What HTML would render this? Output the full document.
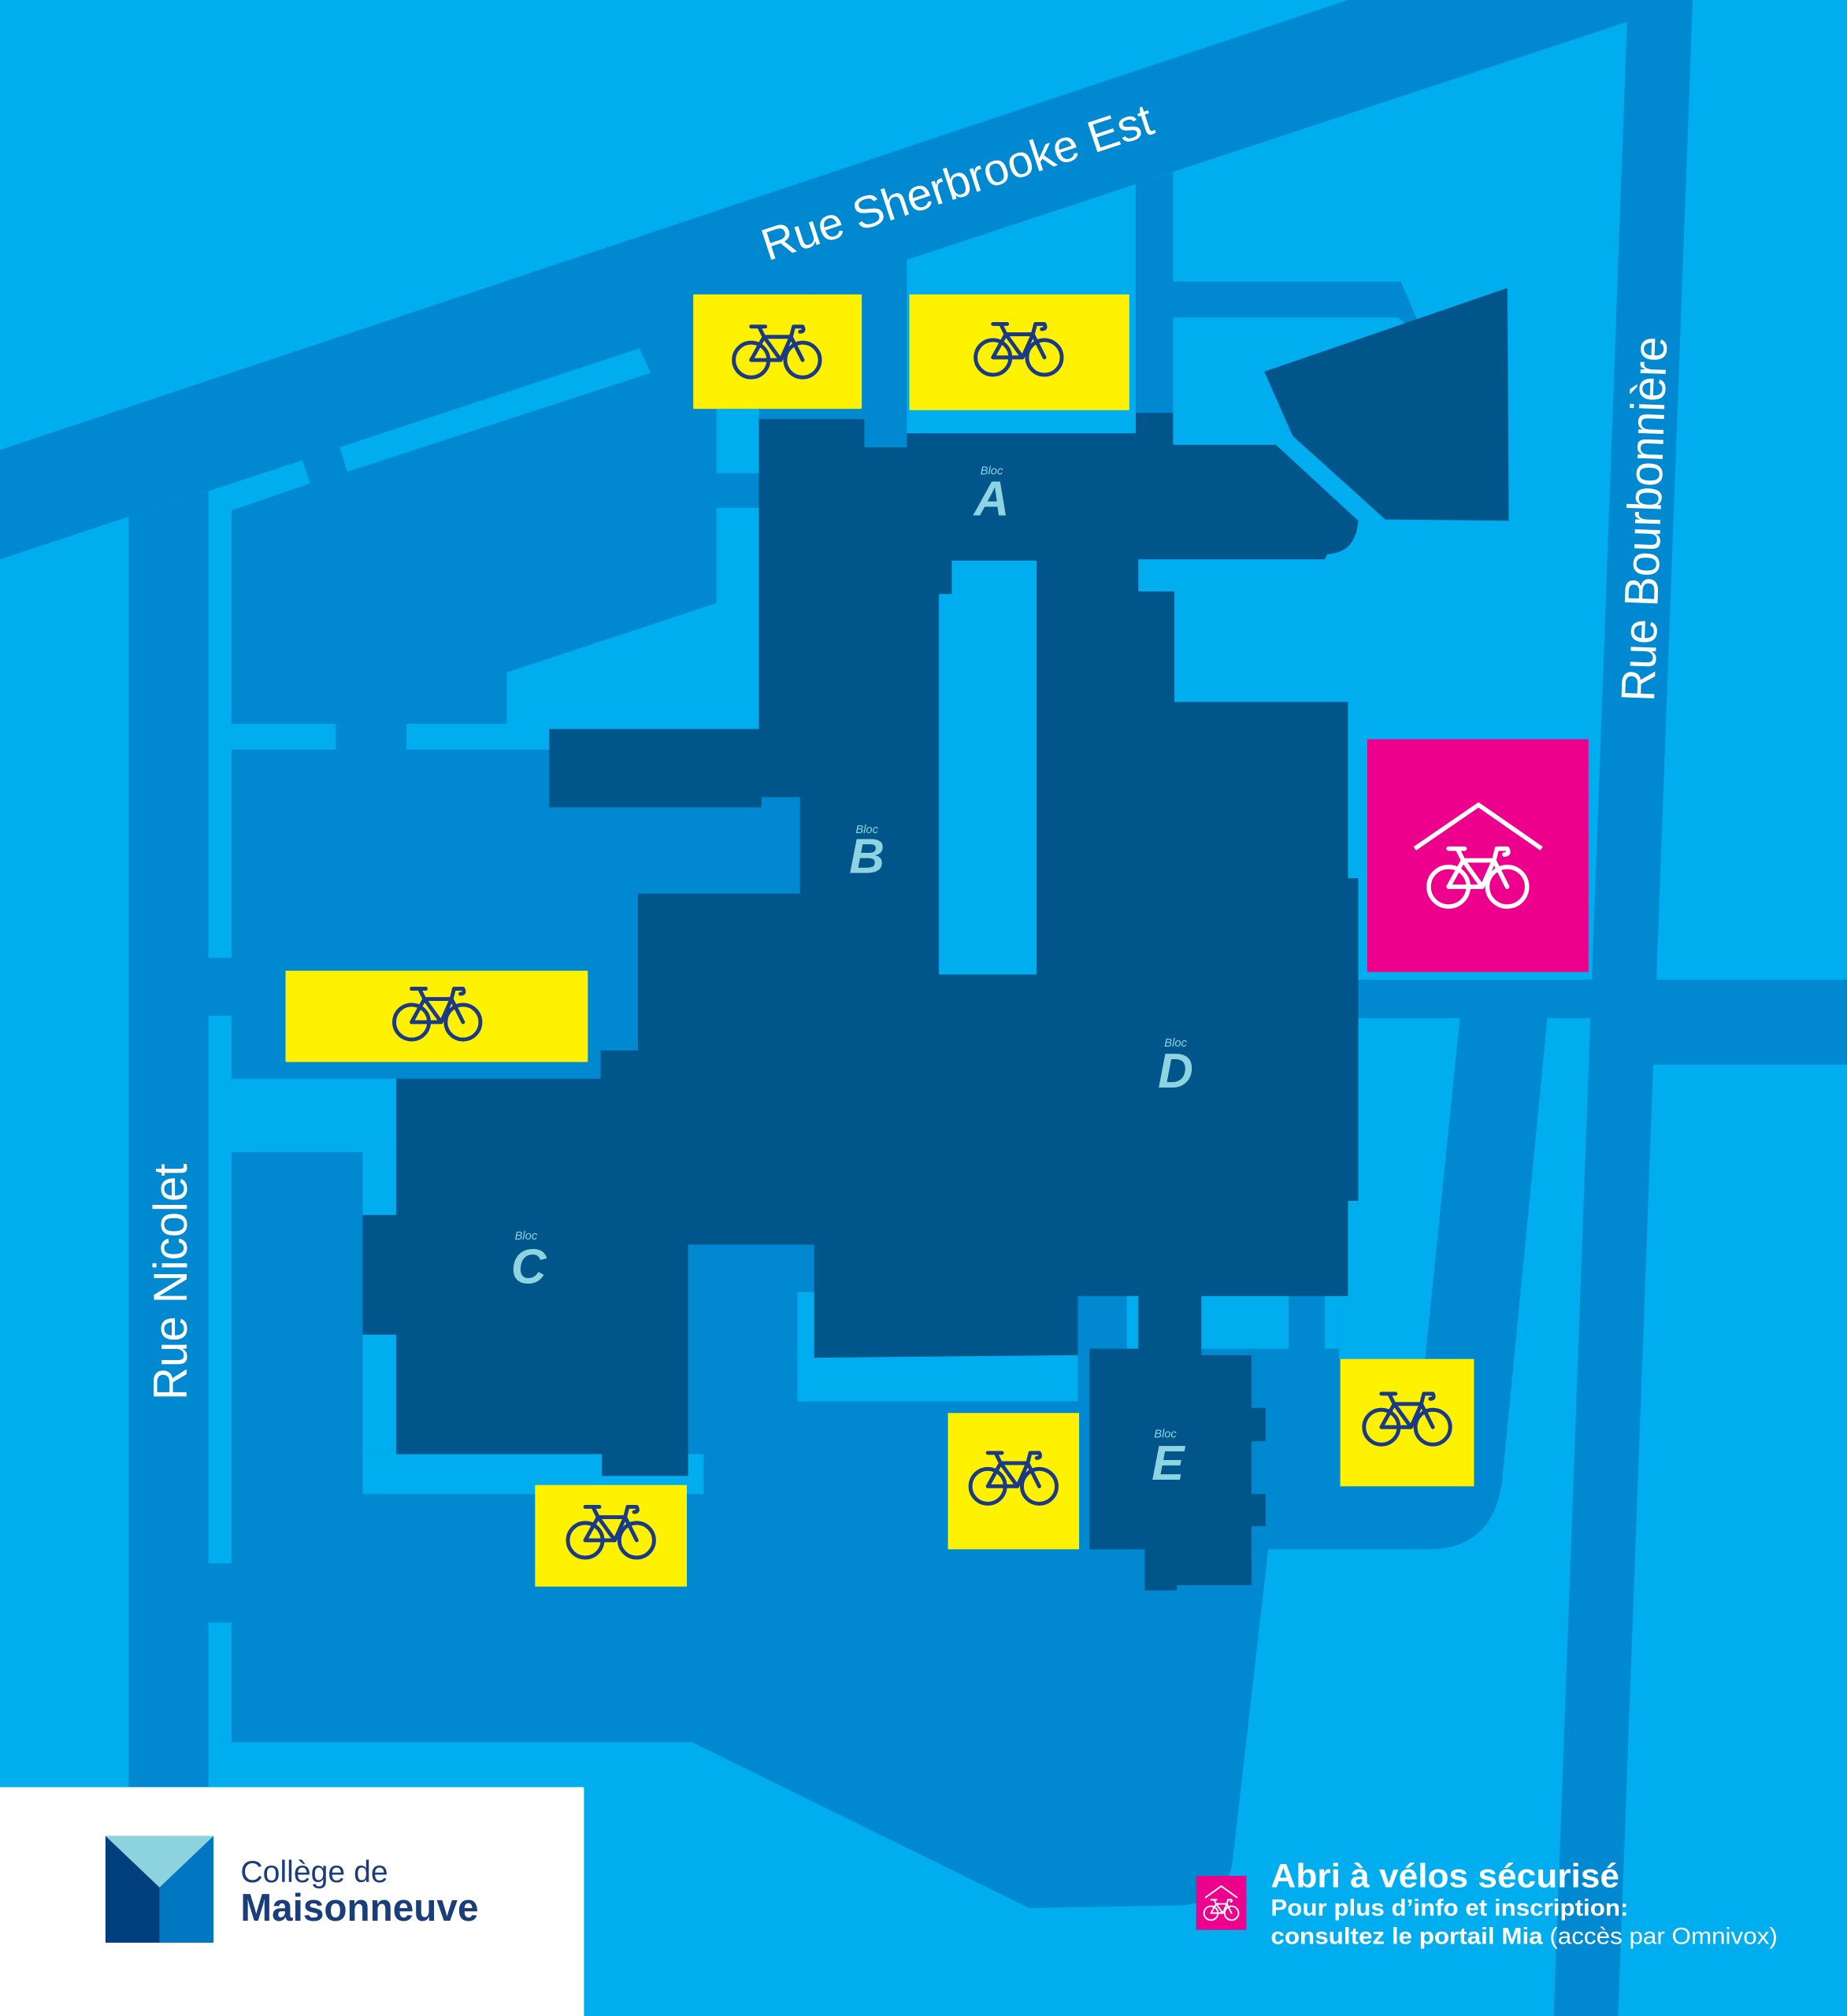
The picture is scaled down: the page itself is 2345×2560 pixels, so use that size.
<!DOCTYPE html>
<html><head><meta charset="utf-8"><style>html,body{margin:0;padding:0;background:#00ADEF}svg{display:block}</style></head>
<body>
<svg width="2345" height="2560" viewBox="0 0 1436 1568" preserveAspectRatio="none" xmlns="http://www.w3.org/2000/svg">
<defs>
<g id="bike" fill="none" stroke-width="3" stroke-linecap="round" stroke-linejoin="round">
<circle cx="-20" cy="5" r="13.5"/><circle cx="20" cy="5" r="13.5"/>
<path d="M-20,5 L3,5 L-10,-13 Z M-10,-13 L11,-13 L3,5 M11,-13 L20,5 M-10,-13 L-14,-21 M-20,-21 L-9,-21 M11,-13 L13,-21 L20,-21 Q22,-17 18,-17"/>
</g>
</defs>
<rect width="1436" height="1568" fill="#00ADEF"/>
<g fill="#0088D0">
<polygon points="0,350 1048,0 1316,0 1258,1568 1208,1568 1265,17 0,435"/>
<polygon points="883,143 912,134 912,321 883,321"/>
<polygon points="912,219 1089,219 1102,249 1093,252 1087,247 912,247"/>
<rect x="1056" y="762" width="190" height="30"/>
<rect x="1240" y="762" width="196" height="66"/>
<path d="M100,402 L705,202 L705,1000 L1041,1000 L1041,1057 L1108,1057 L1135,792 L1203,792 L1168,1150 Q1162,1205 1110,1205 L986,1205 L958,1450 Q952,1482 914,1482 L800,1484 L538,1355 L162,1355 L162,1568 L100,1568 Z"/>
</g>
<g fill="#00ADEF">
<polygon points="162,382 235,358 241,376 180,397 180,745 162,745"/>
<rect x="162" y="790" width="18" height="426"/>
<rect x="162" y="1262" width="18" height="93"/>
<polygon points="264,348 497,271 506,290 270,367"/>
<rect x="180" y="563" width="81" height="20"/>
<polygon points="394,523 557,469 557,395 590,395 590,567 427,567 427,583 316,583 316,563 394,563"/>
<rect x="557" y="318" width="33" height="50"/>
<rect x="180" y="839" width="128" height="57"/>
<rect x="282" y="896" width="26" height="49"/>
<rect x="282" y="1038" width="26" height="124"/>
<rect x="282" y="1131" width="265" height="31"/>
<rect x="620" y="1005" width="218" height="85"/>
<rect x="876" y="1008" width="9" height="41"/>
<rect x="934" y="1008" width="68" height="41"/>
<rect x="1030" y="1008" width="11" height="41"/>
</g>
<g fill="#00558B">
<path d="M590,326 L672,326 L672,348 L705,348 L705,337 L883,337 L883,321 L912,321 L912,346 L992,346 L1056,405 Q1054,430 1032,431 L1030,435 L885,435 L885,460 L913,460 L913,546 L1048,546 L1048,683 L1056,683 L1056,934 L1048,934 L1048,1008 L934,1008 L934,1054 L973,1054 L973,1095 L984,1095 L984,1121 L973,1121 L973,1162 L984,1162 L984,1187 L973,1187 L973,1233 L915,1233 L915,1237 L890,1237 L890,1205 L847,1205 L847,1049 L885,1049 L885,1008 L838,1008 L838,1054 L633,1056 L633,968 L535,968 L535,1148 L468,1148 L468,1131 L308,1131 L308,1038 L282,1038 L282,945 L308,945 L308,839 L467,839 L467,817 L496,817 L496,695 L622,695 L622,620 L592,620 L592,628 L427,628 L427,567 L590,567 Z"/>
<polygon points="983,289 1172,224 1173,405 1077,404 1005,339"/>
</g>
<polygon fill="#00ADEF" points="740,436 806,436 806,758 730,758 730,462 740,462"/>
<g fill="#FFF200">
<rect x="539" y="229" width="131" height="89"/>
<rect x="707" y="229" width="171" height="90"/>
<rect x="222" y="755" width="235" height="71"/>
<rect x="416" y="1155" width="118" height="79"/>
<rect x="737" y="1099" width="102" height="106"/>
<rect x="1042" y="1057" width="104" height="99"/>
</g>
<rect x="1063" y="575" width="172" height="181" fill="#EC008C"/>
<g stroke="#1A3A88">
<use href="#bike" x="604" y="275"/>
<use href="#bike" x="792" y="273"/>
<use href="#bike" x="340" y="790"/>
<use href="#bike" x="475" y="1193"/>
<use href="#bike" x="788" y="1151"/>
<use href="#bike" x="1094" y="1105"/>
</g>
<g stroke="#fff">
<use href="#bike" transform="translate(1149,684) scale(1.14)"/>
<polyline points="1100,660 1149.5,626 1198.5,660" fill="none" stroke-width="3.5"/>
</g>
<g fill="#8ED3E0" font-family="Liberation Sans, sans-serif" font-style="italic" text-anchor="middle">
<text x="771" y="369" font-size="9">Bloc</text><text x="771" y="401" font-size="38" font-weight="bold">A</text>
<text x="674" y="648" font-size="9">Bloc</text><text x="674" y="679" font-size="38" font-weight="bold">B</text>
<text x="409" y="964" font-size="9">Bloc</text><text x="411" y="998" font-size="38" font-weight="bold">C</text>
<text x="914" y="814" font-size="9">Bloc</text><text x="914" y="846" font-size="38" font-weight="bold">D</text>
<text x="906" y="1118" font-size="9">Bloc</text><text x="908" y="1151" font-size="38" font-weight="bold">E</text>
</g>
<g fill="#fff" font-family="Liberation Sans, sans-serif">
<text transform="translate(597,203) rotate(-18.3)" font-size="35" textLength="318" lengthAdjust="spacingAndGlyphs">Rue Sherbrooke Est</text>
<text transform="translate(1286,546) rotate(-88)" font-size="37" textLength="284" lengthAdjust="spacingAndGlyphs">Rue Bourbonnière</text>
<text transform="translate(145,1089) rotate(-90)" font-size="37" textLength="184" lengthAdjust="spacingAndGlyphs">Rue Nicolet</text>
</g>
<rect x="0" y="1390" width="454" height="178" fill="#fff"/>
<rect x="82" y="1428" width="42" height="83" fill="#003E7E"/>
<rect x="124" y="1428" width="42" height="83" fill="#0077C0"/>
<polygon points="82,1428 166,1428 124,1468" fill="#8DD3DD"/>
<text x="187" y="1464" font-family="Liberation Sans, sans-serif" font-size="24" fill="#1A3D7C">Collège de</text>
<text x="187" y="1494" font-family="Liberation Sans, sans-serif" font-size="30" font-weight="bold" fill="#1A3D7C" textLength="185" lengthAdjust="spacingAndGlyphs">Maisonneuve</text>
<rect x="930" y="1459" width="39" height="42" fill="#EC008C"/>
<g stroke="#fff"><use href="#bike" transform="translate(949.5,1486) scale(0.4)"/><polyline points="937,1476 949.5,1467 962,1476" fill="none" stroke-width="1.2"/></g>
<g fill="#fff" font-family="Liberation Sans, sans-serif" font-weight="bold">
<text x="988" y="1468" font-size="26" textLength="271" lengthAdjust="spacingAndGlyphs">Abri à vélos sécurisé</text>
<text x="988" y="1490" font-size="18" textLength="278" lengthAdjust="spacingAndGlyphs">Pour plus d’info et inscription:</text>
<text x="988" y="1512" font-size="18" textLength="394" lengthAdjust="spacingAndGlyphs">consultez le portail Mia <tspan font-weight="normal">(accès par Omnivox)</tspan></text>
</g>
</svg>
</body></html>
